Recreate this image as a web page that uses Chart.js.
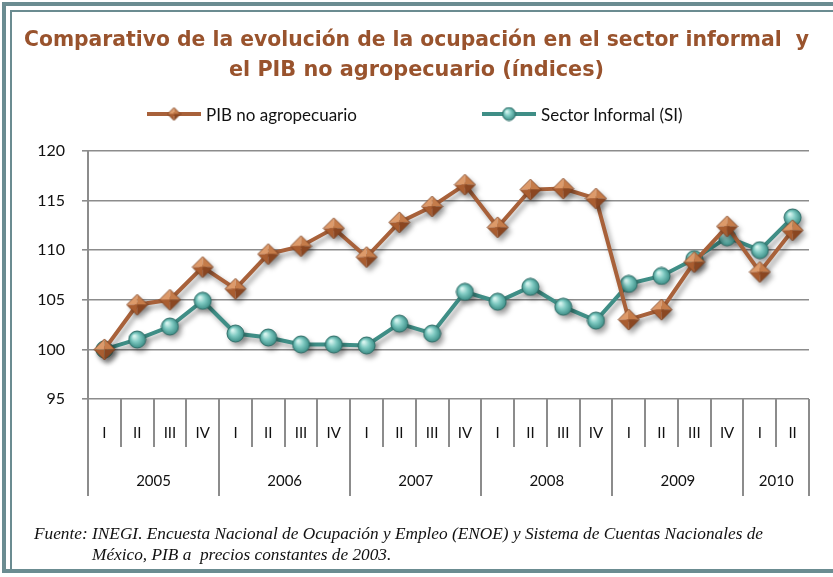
<!DOCTYPE html>
<html>
<head>
<meta charset="utf-8">
<script src="https://cdn.jsdelivr.net/npm/chart.js@4"></script>
<style>
  body { margin: 0; background: #fff; }
  #wrap { position: relative; width: 833px; height: 577px; overflow: hidden; background: #fff; }
  #c { position: absolute; left: 0; top: 0; }
  .frame-out { position: absolute; left: 2px; top: 2px; width: 840px; height: 571px; border: 4px solid #6b8c91; box-sizing: border-box; }
  .frame-in { position: absolute; left: 10px; top: 10px; width: 840px; height: 560px; border-left: 2px solid #6b8c91; border-top: 2px solid #6b8c91; box-sizing: border-box; }
  .legend-item { position: absolute; top: 105px; height: 18px; display: flex; align-items: center; font: 17px Lato, sans-serif; color: #111; }
  .legend-item canvas { margin-right: 5px; }
  .note { position: absolute; font: italic 17.3px "Liberation Serif", serif; color: #111; white-space: pre; }
</style>
</head>
<body>
<div id="wrap">
  <canvas id="c" width="833" height="577"></canvas>
  <div class="frame-out"></div>
  <div class="frame-in"></div>
  <div id="legend"></div>
  <div class="note" style="left:34px; top:524px;">Fuente: INEGI. Encuesta Nacional de Ocupación y Empleo (ENOE) y Sistema de Cuentas Nacionales de</div>
  <div class="note" style="left:92px; top:545px;">México, PIB a  precios constantes de 2003.</div>
</div>
<script>
const titleLines = ['Comparativo de la evolución de la ocupación en el sector informal  y',
                    'el PIB no agropecuario (índices)'];
const quarters = ['I','II','III','IV','I','II','III','IV','I','II','III','IV',
                  'I','II','III','IV','I','II','III','IV','I','II'];
const years = ['2005','2006','2007','2008','2009','2010'];
const quartersPerYear = [4, 4, 4, 4, 4, 2];
const pibNoAgro = [100.0, 104.5, 105.0, 108.3, 106.1, 109.6, 110.4, 112.2, 109.3, 112.8, 114.4, 116.6,
                   112.3, 116.1, 116.2, 115.2, 103.0, 104.0, 108.8, 112.4, 107.8, 112.0];
const sectorInformal = [100.0, 101.0, 102.3, 104.9, 101.6, 101.2, 100.5, 100.5, 100.4, 102.6, 101.6, 105.8,
                        104.8, 106.3, 104.3, 102.9, 106.6, 107.4, 109.1, 111.3, 110.0, 113.3];
const yTicks = [95, 100, 105, 110, 115, 120];

const brown = '#a8613a';
const teal = '#3f8e86';
const gridGray = '#8c8c8c';

// year boundaries and centers on the category index scale
const yearEdges = [-0.5];
const yearCenters = [];
quartersPerYear.forEach(n => {
  const start = yearEdges[yearEdges.length - 1];
  yearCenters.push(start + n / 2);
  yearEdges.push(start + n);
});

function diamondIcon(size) {
  const cv = document.createElement('canvas');
  cv.width = size; cv.height = size;
  const g = cv.getContext('2d');
  const c = size / 2, r = size / 2 - 1;
  const T = [c, c - r], R = [c + r, c], B = [c, c + r], L = [c - r, c];
  const face = (a, b, col) => {
    g.beginPath(); g.moveTo(c, c); g.lineTo(a[0], a[1]); g.lineTo(b[0], b[1]); g.closePath();
    g.fillStyle = col; g.fill();
  };
  face(L, T, '#dd9a6a');
  face(T, R, '#c57c4a');
  face(R, B, '#8a4621');
  face(B, L, '#a95d30');
  g.beginPath(); g.moveTo(T[0], T[1]); g.lineTo(R[0], R[1]); g.lineTo(B[0], B[1]); g.lineTo(L[0], L[1]); g.closePath();
  g.strokeStyle = '#7a3d1c'; g.lineWidth = 0.8; g.stroke();
  return cv;
}

function sphereIcon(size) {
  const cv = document.createElement('canvas');
  cv.width = size; cv.height = size;
  const g = cv.getContext('2d');
  const c = size / 2, r = size / 2 - 1;
  const grad = g.createRadialGradient(c - r * 0.35, c - r * 0.4, r * 0.1, c, c, r);
  grad.addColorStop(0, '#d6f4ef');
  grad.addColorStop(0.45, '#7fcac2');
  grad.addColorStop(1, '#3c8d86');
  g.beginPath(); g.arc(c, c, r, 0, Math.PI * 2);
  g.fillStyle = grad; g.fill();
  g.strokeStyle = '#2f6e68'; g.lineWidth = 1; g.stroke();
  return cv;
}

function legendIcon(color, marker) {
  const cv = document.createElement('canvas');
  cv.width = 54; cv.height = 18;
  const g = cv.getContext('2d');
  g.strokeStyle = color; g.lineWidth = 4;
  g.beginPath(); g.moveTo(0, 9); g.lineTo(54, 9); g.stroke();
  g.drawImage(marker, 27 - marker.width / 2, 9 - marker.height / 2);
  return cv;
}

const shadowPlugin = {
  id: 'shadow',
  beforeDatasetsDraw(chart) {
    const ctx = chart.ctx;
    ctx.save();
    ctx.shadowColor = 'rgba(0,0,0,0.35)';
    ctx.shadowBlur = 5;
    ctx.shadowOffsetX = 3;
    ctx.shadowOffsetY = 4;
  },
  afterDatasetsDraw(chart) {
    chart.ctx.restore();
  }
};

const series = [
  { label: 'PIB no agropecuario', data: pibNoAgro, color: brown, marker: diamondIcon(23), small: diamondIcon(15) },
  { label: 'Sector Informal (SI)', data: sectorInformal, color: teal, marker: sphereIcon(19), small: sphereIcon(15) }
];

const chart = new Chart(document.getElementById('c'), {
  type: 'line',
  data: {
    labels: quarters,
    datasets: series.map(s => ({
      label: s.label,
      data: s.data,
      borderColor: s.color,
      borderWidth: 4,
      pointStyle: s.marker,
      pointRadius: 10,
      tension: 0
    }))
  },
  options: {
    responsive: false,
    animation: false,
    layout: { padding: { top: 20, left: 24, right: 24, bottom: 81 } },
    plugins: {
      legend: { display: false },
      tooltip: { enabled: false },
      title: {
        display: true,
        text: titleLines,
        color: '#99532d',
        font: { family: 'DejaVu Sans', size: 20.8, weight: 'bold', lineHeight: 1.44 },
        padding: { top: 6, bottom: 65 }
      }
    },
    scales: {
      y: {
        min: 95, max: 120,
        afterFit(scale) { scale.width = 64; },
        afterBuildTicks(scale) { scale.ticks = yTicks.map(v => ({ value: v })); },
        ticks: { padding: 17, color: '#111', font: { family: 'Lato', size: 16 } },
        grid: { color: gridGray, lineWidth: 1.6, tickLength: 6 },
        border: { display: true, color: gridGray, width: 2 }
      },
      x: {
        afterFit(scale) { scale.height = 48; },
        offset: true,
        ticks: { padding: -23, color: '#111', font: { family: 'Lato', size: 15 }, maxRotation: 0, autoSkip: false },
        grid: { offset: true, drawOnChartArea: false, tickLength: 48, color: gridGray, lineWidth: 2 },
        border: { display: false }
      },
      xYear: {
        type: 'linear',
        position: 'bottom',
        min: -0.5, max: quarters.length - 0.5,
        bounds: 'data',
        afterFit(scale) { scale.height = 49; },
        afterBuildTicks(scale) {
          scale.ticks = yearEdges.concat(yearCenters).sort((a, b) => a - b).map(v => ({ value: v }));
        },
        ticks: {
          autoSkip: false, maxRotation: 0, padding: -24, color: '#111',
          font: { family: 'Lato', size: 15 },
          callback(v) {
            const i = yearCenters.indexOf(v);
            return i >= 0 ? years[i] : '';
          }
        },
        grid: {
          drawOnChartArea: false, tickLength: 49, lineWidth: 2,
          color(ctx) { return ctx.tick && yearEdges.includes(ctx.tick.value) ? gridGray : 'rgba(0,0,0,0)'; }
        },
        border: { display: false }
      }
    }
  },
  plugins: [shadowPlugin]
});

// legend built from the chart's datasets
const legend = document.getElementById('legend');
const legendLefts = [147, 482];
series.forEach((s, i) => {
  const item = document.createElement('div');
  item.className = 'legend-item';
  item.style.left = legendLefts[i] + 'px';
  item.appendChild(legendIcon(s.color, s.small));
  const span = document.createElement('span');
  span.textContent = chart.data.datasets[i].label;
  item.appendChild(span);
  legend.appendChild(item);
});
</script>
</body>
</html>
